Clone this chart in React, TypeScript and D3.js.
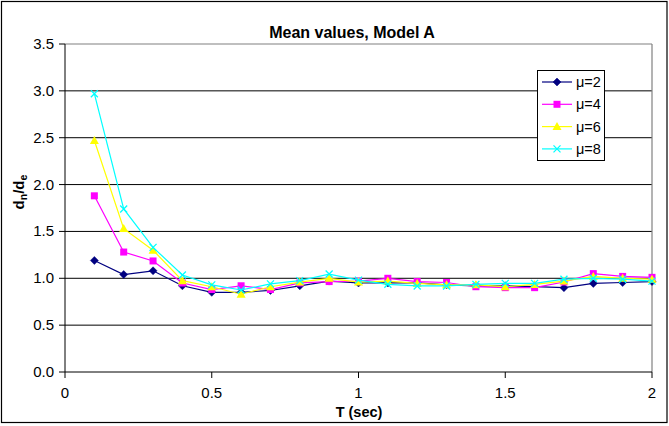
import React from "react";
import * as d3 from "d3";

const periods = [0.1, 0.2, 0.3, 0.4, 0.5, 0.6, 0.7, 0.8, 0.9, 1.0, 1.1, 1.2, 1.3, 1.4, 1.5, 1.6, 1.7, 1.8, 1.9, 2.0];
const mu2 = [1.19, 1.04, 1.08, 0.92, 0.85, 0.85, 0.87, 0.92, 0.97, 0.95, 0.95, 0.95, 0.93, 0.92, 0.92, 0.91, 0.90, 0.945, 0.955, 0.965];
const mu4 = [1.88, 1.28, 1.185, 0.95, 0.88, 0.92, 0.88, 0.95, 0.965, 0.97, 1.0, 0.965, 0.955, 0.91, 0.90, 0.90, 0.96, 1.05, 1.02, 1.01];
const mu6 = [2.47, 1.53, 1.30, 0.975, 0.91, 0.83, 0.91, 0.96, 1.0, 0.96, 0.97, 0.945, 0.93, 0.93, 0.91, 0.935, 0.97, 1.02, 1.0, 0.99];
const mu8 = [2.97, 1.74, 1.33, 1.035, 0.93, 0.875, 0.94, 0.975, 1.045, 0.98, 0.936, 0.918, 0.918, 0.935, 0.946, 0.946, 0.99, 1.0, 0.99, 0.97];
const seriesNames = ["μ=2", "μ=4", "μ=6", "μ=8"];
const yTicks = [0, 0.5, 1.0, 1.5, 2.0, 2.5, 3.0, 3.5];
const xTicks = [0, 0.5, 1, 1.5, 2];

const colors = ["#000080", "#FF00FF", "#FFFF00", "#00FFFF"];
const shapes = ["diamond", "square", "triangle", "x"];
const FONT = "'Liberation Sans', Arial, sans-serif";

function Marker({ shape, color, x, y }: { shape: string; color: string; x: number; y: number }) {
  if (shape === "diamond") {
    return <path d={`M${x},${y - 4}L${x + 4},${y}L${x},${y + 4}L${x - 4},${y}Z`} fill={color} stroke={color} strokeWidth={0.5} />;
  }
  if (shape === "square") {
    return <rect x={x - 3.5} y={y - 3.5} width={7} height={7} fill={color} />;
  }
  if (shape === "triangle") {
    return <path d={`M${x},${y - 4.5}L${x + 4.5},${y + 3.5}L${x - 4.5},${y + 3.5}Z`} fill={color} />;
  }
  return (
    <path d={`M${x - 3.5},${y - 3.5}L${x + 3.5},${y + 3.5}M${x - 3.5},${y + 3.5}L${x + 3.5},${y - 3.5}`} stroke={color} strokeWidth={1.3} fill="none" />
  );
}

export default function App() {
  const W = 669, H = 426;
  const x = d3.scaleLinear().domain([0, 2]).range([65, 652]);
  const y = d3.scaleLinear().domain([0, 3.5]).range([372, 44]);
  const all = [mu2, mu4, mu6, mu8];
  const line = d3.line<number>().x((_, i) => x(periods[i])).y((v) => y(v));

  return (
    <div style={{ position: "absolute", left: 0, top: 0 }}>
      <svg width={W} height={H} style={{ display: "block" }} fontFamily={FONT}>
        <rect x={0} y={0} width={W} height={H} fill="#fff" />
        <rect x={1.5} y={1.5} width={665.5} height={421} fill="none" stroke="#000" strokeWidth={1.2} />
        <text x={352} y={38} textAnchor="middle" fontSize={16} fontWeight="bold">Mean values, Model A</text>

        {/* grid */}
        {yTicks.filter((t) => t > 0 && t < 3.5).map((t) => (
          <line key={t} x1={x(0)} x2={x(2)} y1={y(t)} y2={y(t)} stroke="#000" strokeWidth={1} />
        ))}
        {/* plot frame */}
        <line x1={x(0)} x2={x(2)} y1={y(3.5)} y2={y(3.5)} stroke="#808080" strokeWidth={1.2} />
        <line x1={x(2)} x2={x(2)} y1={y(3.5)} y2={y(0)} stroke="#808080" strokeWidth={1.2} />
        {/* axes */}
        <line x1={x(0)} x2={x(0)} y1={y(3.5)} y2={y(0)} stroke="#000" strokeWidth={1} />
        <line x1={x(0)} x2={x(2)} y1={y(0)} y2={y(0)} stroke="#000" strokeWidth={1} />
        {yTicks.map((t) => (
          <g key={t}>
            <line x1={x(0) - 6} x2={x(0)} y1={y(t)} y2={y(t)} stroke="#000" />
            <text x={54} y={y(t) + 5} textAnchor="end" fontSize={15}>{d3.format(".1f")(t)}</text>
          </g>
        ))}
        {xTicks.map((t) => (
          <g key={t}>
            <line x1={x(t)} x2={x(t)} y1={y(0)} y2={y(0) + 6} stroke="#000" />
            <text x={x(t)} y={398} textAnchor="middle" fontSize={15}>{String(t)}</text>
          </g>
        ))}
        <text x={359} y={417} textAnchor="middle" fontSize={14.5} fontWeight="bold">T (sec)</text>
        <text transform={`translate(24,192) rotate(-90)`} textAnchor="middle" fontSize={15} fontWeight="bold">
          d<tspan fontSize={10.5} dy={3}>n</tspan><tspan dy={-3}>/d</tspan><tspan fontSize={10.5} dy={3}>e</tspan>
        </text>

        {/* series */}
        {all.map((vals, si) => (
          <g key={si}>
            <path d={line(vals) || ""} fill="none" stroke={colors[si]} strokeWidth={1.2} />
            {vals.map((v, i) => (
              <Marker key={i} shape={shapes[si]} color={colors[si]} x={x(periods[i])} y={y(v)} />
            ))}
          </g>
        ))}

        {/* legend */}
        <rect x={537.5} y={70.5} width={67} height={90} fill="#fff" stroke="#000" strokeWidth={1} />
        {seriesNames.map((name, i) => {
          const ly = 82 + i * 22.3;
          return (
            <g key={name}>
              <line x1={542} x2={572} y1={ly} y2={ly} stroke={colors[i]} strokeWidth={1.2} />
              <Marker shape={shapes[i]} color={colors[i]} x={557} y={ly} />
              <text x={576} y={ly + 5} fontSize={14.5}>{name}</text>
            </g>
          );
        })}
      </svg>
    </div>
  );
}
